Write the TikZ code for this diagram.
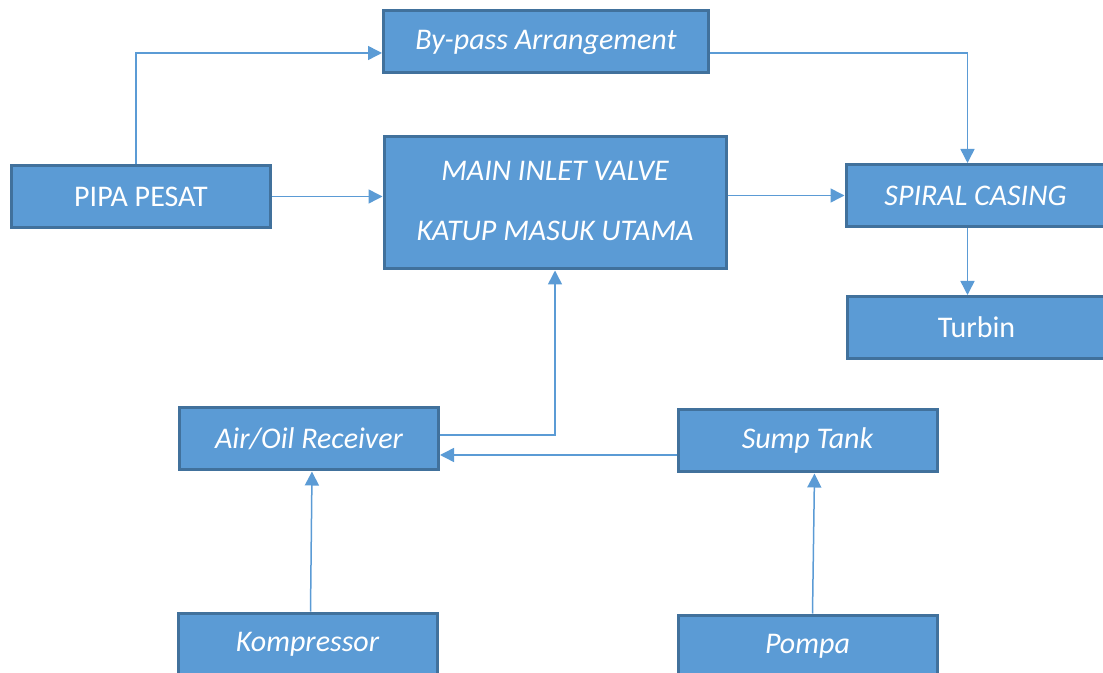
\documentclass[tikz,border=0pt]{standalone}
\usepackage{fontspec}
\setmainfont{Carlito}
\usepackage{xcolor}
\usepackage{tikz}
\usetikzlibrary{arrows.meta}
\definecolor{boxblue}{RGB}{91,155,213}
\definecolor{edgeblue}{RGB}{65,113,156}
\definecolor{lineblue}{RGB}{91,155,213}

\tikzset{
  block/.style={draw=edgeblue, fill=boxblue, line width=1.5pt, inner sep=0pt,
    text=white, font=\fontsize{15}{30}\selectfont\itshape,
    minimum width=129.5pt, minimum height=31pt, align=center},
  flow/.style={draw=lineblue, line width=0.75pt, -{Triangle[length=7pt,width=7pt]}}
}

\begin{document}
\begin{tikzpicture}[x=0.5pt, y=-0.5pt]
\useasboundingbox (0,0) rectangle (1103,673);

\node[block, minimum width=162.5pt] (bypass) at (546,42) {By-pass Arrangement};
\node[block, font=\fontsize{15}{30}\selectfont\upshape] (pipa) at (141,196.5) {PIPA PESAT};
\node[block, minimum width=171pt, minimum height=66pt] (valve) at (555,203)
  {\raisebox{2.5pt}{MAIN INLET VALVE}\\\raisebox{2.5pt}{KATUP MASUK UTAMA}};
\node[block] (spiral) at (975.5,195.5) {SPIRAL CASING};
\node[block, font=\fontsize{15}{30}\selectfont\upshape] (turbin) at (976.5,327.5) {Turbin};
\node[block] (receiver) at (309,439) {Air/Oil Receiver};
\node[block] (sump) at (807.5,441) {Sump Tank};
\node[block] (kompressor) at (307.5,644) {Kompressor};
\node[block] (pompa) at (807.5,646) {Pompa};

\coordinate (sumpout) at ([yshift=-7pt]sump.west);

\draw[flow] ([xshift=-2.5pt]pipa.north) |- ([yshift=-5.5pt]bypass.west);
\draw[flow] (pipa.east) -- (valve.west |- pipa.east);
\draw[flow] ([yshift=-5.5pt]bypass.east) -| ([xshift=-4pt]spiral.north);
\draw[flow] (valve.east |- spiral.west) -- (spiral.west);
\draw[flow] ([xshift=-4pt]spiral.south) -- ([xshift=-4pt]spiral.south |- turbin.north);
\draw[flow] ([yshift=2pt]receiver.east) -| (valve.south);
\draw[flow] (sumpout) -- (receiver.east |- sumpout);
\draw[flow] ([xshift=1.5pt]kompressor.north) -- ([xshift=1.5pt]receiver.south);
\draw[flow] ([xshift=2.5pt]pompa.north) -- ([xshift=3.5pt]sump.south);
\end{tikzpicture}
\end{document}
